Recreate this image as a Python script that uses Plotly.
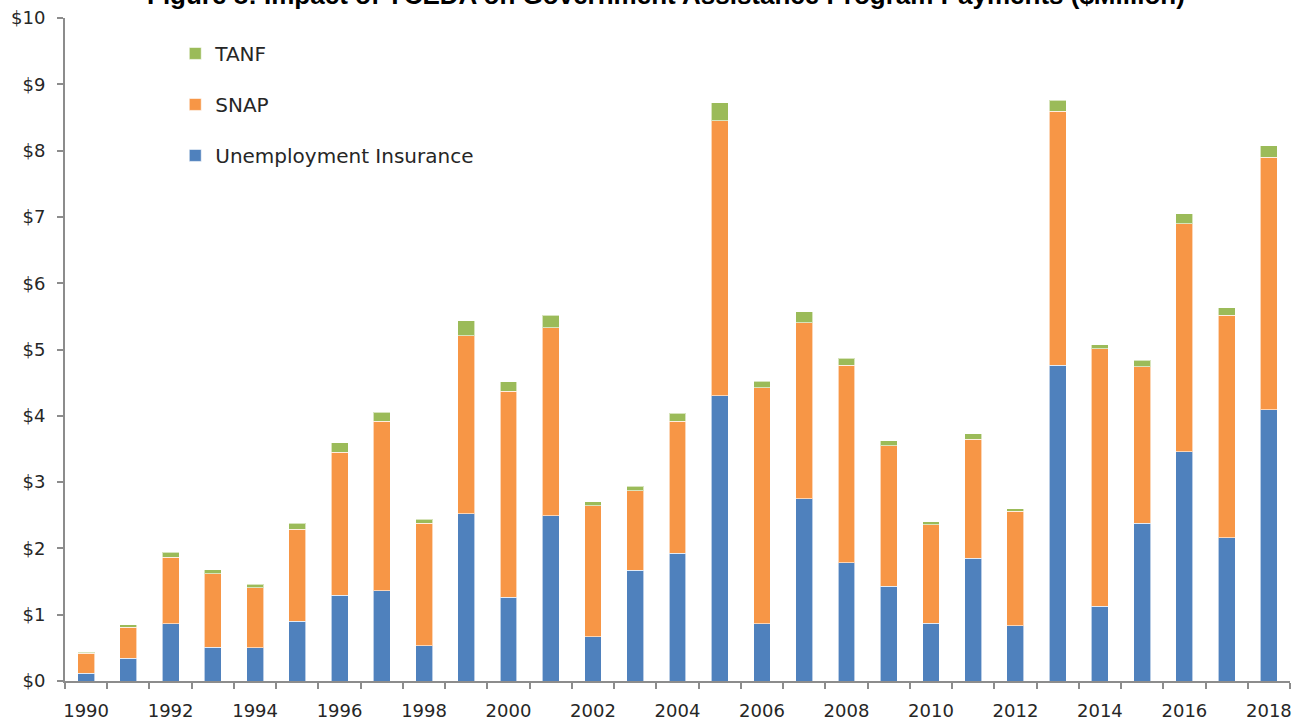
import plotly.graph_objects as go

years = list(range(1990, 2019))

# $ million
ui = [0.12, 0.34, 0.86, 0.51, 0.50, 0.90, 1.29, 1.36, 0.53, 2.52,
      1.26, 2.49, 0.67, 1.67, 1.93, 4.30, 0.86, 2.75, 1.78, 1.43,
      0.87, 1.85, 0.83, 4.76, 1.13, 2.38, 3.46, 2.16, 4.09]
snap_top = [0.42, 0.81, 1.87, 1.62, 1.41, 2.29, 3.45, 3.92, 2.38, 5.21,
            4.37, 5.33, 2.64, 2.87, 3.92, 8.45, 4.42, 5.40, 4.76, 3.55,
            2.36, 3.65, 2.56, 8.59, 5.01, 4.74, 6.90, 5.52, 7.90]
tanf_top = [0.43, 0.845, 1.94, 1.68, 1.46, 2.38, 3.59, 4.05, 2.44, 5.43,
            4.51, 5.52, 2.70, 2.94, 4.04, 8.72, 4.52, 5.57, 4.87, 3.62,
            2.40, 3.73, 2.60, 8.76, 5.07, 4.84, 7.05, 5.63, 8.07]

snap = [round(s - u, 3) for s, u in zip(snap_top, ui)]
tanf = [round(t - s, 3) for t, s in zip(tanf_top, snap_top)]

y_ticks = list(range(0, 11))
y_labels = ["$%d" % v for v in y_ticks]
x_label_years = list(range(1990, 2019, 2))

TICK_FONT = dict(family="DejaVu Sans", size=18, color="#262626")
AXIS_GREY = "#8c8c8c"

fig = go.Figure()
# legendrank puts TANF on top of the legend, like the stack
for name, vals, color, rank in [
    ("Unemployment Insurance", ui, "#4f81bd", 3),
    ("SNAP", snap, "#f79646", 2),
    ("TANF", tanf, "#9bbb59", 1),
]:
    fig.add_trace(
        go.Bar(
            x=years,
            y=vals,
            name=name,
            legendgroup=name,
            legendrank=rank,
            width=0.4,
            marker=dict(color=color, line=dict(color="rgba(255,255,255,0.6)", width=1)),
        )
    )

# title sits partly above the page edge in the reference
fig.add_annotation(
    text="<b>Figure 8: Impact of YCEDA on Government Assistance Program Payments ($Million)</b>",
    xref="paper",
    yref="paper",
    x=0.491,
    y=1.034,
    xanchor="center",
    yanchor="middle",
    showarrow=False,
    font=dict(family="Liberation Sans", size=26, color="black"),
)

fig.update_layout(
    barmode="stack",
    width=1300,
    height=721,
    margin=dict(l=65, r=10, t=18, b=40),
    paper_bgcolor="white",
    plot_bgcolor="white",
    legend=dict(
        x=0.09,
        y=0.976,
        xanchor="left",
        yanchor="top",
        traceorder="grouped",
        tracegroupgap=22,
        font=dict(family="DejaVu Sans", size=20, color="#262626"),
        bgcolor="rgba(0,0,0,0)",
        itemwidth=30,
    ),
    showlegend=True,
)

fig.update_xaxes(
    range=[1989.5, 2018.5],
    automargin=False,
    tickmode="array",
    tickvals=x_label_years,
    ticktext=[str(y) for y in x_label_years],
    ticks="outside",
    ticklen=12,
    tickcolor="rgba(0,0,0,0)",
    tickfont=TICK_FONT,
    showline=True,
    linecolor=AXIS_GREY,
    linewidth=2,
    showgrid=False,
    zeroline=False,
    minor=dict(
        tickmode="array",
        tickvals=[y - 0.5 for y in years] + [2018.5],
        ticks="outside",
        ticklen=6,
        tickwidth=2,
        tickcolor=AXIS_GREY,
        showgrid=False,
    ),
)

fig.update_yaxes(
    range=[0, 10],
    automargin=False,
    tickmode="array",
    tickvals=y_ticks,
    ticktext=y_labels,
    ticks="outside",
    ticklen=6,
    tickwidth=2,
    tickcolor=AXIS_GREY,
    tickfont=TICK_FONT,
    ticklabelstandoff=8,
    showline=True,
    linecolor=AXIS_GREY,
    linewidth=2,
    showgrid=False,
    zeroline=False,
)

# drop the browser's default 8px body margin so the figure fills the window
fig.write_html(
    "out.html",
    config={"displayModeBar": False},
    post_script="document.body.style.margin='0';",
)
